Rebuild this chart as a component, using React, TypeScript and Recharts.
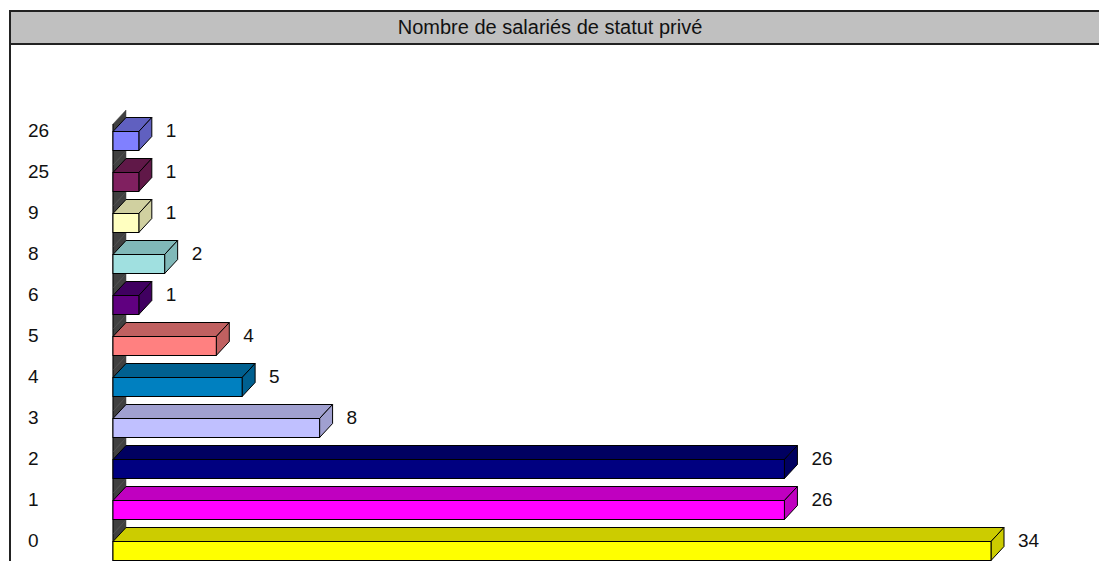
import { BarChart, Bar, XAxis, YAxis, LabelList } from "recharts"

// categories from top to bottom, as in the picture
const categories = ["26", "25", "9", "8", "6", "5", "4", "3", "2", "1", "0"]
const counts = [1, 1, 1, 2, 1, 4, 5, 8, 26, 26, 34]
const frontColors = ["#8080ff", "#802060", "#ffffc0", "#a0e0e0", "#600080", "#ff8080", "#0080c0", "#c0c0ff", "#000080", "#ff00ff", "#ffff00"]
const sideColors = ["#6060c0", "#601848", "#d0d0a0", "#80b8b8", "#400060", "#c06060", "#006090", "#a0a0d0", "#000060", "#c000c0", "#cccc00"]

const data = categories.map((c, i) => ({ cat: c, value: counts[i], front: frontColors[i], side: sideColors[i] }))

const DX = 13
const DY = 14
const FONT = "'Liberation Sans', Arial, sans-serif"

const Bar3D = (props: any) => {
  const { x, y, width, height, payload, background } = props
  const cy = y + height / 2
  const bandTop = background ? background.y : cy - 20.5
  const bandBottom = background ? background.y + background.height : cy + 20.5
  const fTop = cy + 1
  const fBot = cy + 20
  const x2 = x + width
  return (
    <g>
      {/* back wall segment */}
      <polygon
        points={`${x},${bandTop + DY} ${x + DX},${bandTop} ${x + DX},${bandBottom} ${x},${bandBottom + DY}`}
        fill="#404040"
        stroke="#404040"
        strokeWidth={0.5}
      />
      <line x1={x} y1={bandTop + DY} x2={x} y2={bandBottom + DY} stroke="#000" />
      {/* top face */}
      <polygon
        points={`${x},${fTop} ${x + DX},${fTop - DY} ${x2 + DX},${fTop - DY} ${x2},${fTop}`}
        fill={payload.side}
        stroke="#000"
        strokeWidth={1}
      />
      {/* side face */}
      <polygon
        points={`${x2},${fTop} ${x2 + DX},${fTop - DY} ${x2 + DX},${fBot - DY} ${x2},${fBot}`}
        fill={payload.side}
        stroke="#000"
        strokeWidth={1}
      />
      {/* front face */}
      <rect x={x} y={fTop} width={width} height={fBot - fTop} fill={payload.front} stroke="#000" strokeWidth={1} />
    </g>
  )
}

const renderLabel = (props: any) => {
  const { x, y, width, height, value } = props
  return (
    <text x={x + width + DX + 14} y={y + height / 2} dy="0.36em" fontSize={19} fontFamily={FONT} fill="#111">
      {value}
    </text>
  )
}

const CatTick = (props: any) => {
  const { y, payload } = props
  return (
    <text x={28} y={y} dy="0.36em" fontSize={19} fontFamily={FONT} fill="#111">
      {payload.value}
    </text>
  )
}

export default function App() {
  return (
    <div style={{ position: "absolute", left: 0, top: 0, width: 1099, height: 561, background: "#fff", overflow: "hidden" }}>
      {/* frame and title bar */}
      <div
        style={{
          position: "absolute",
          left: 9,
          top: 10,
          width: 1200,
          height: 600,
          borderLeft: "2px solid #222",
          borderTop: "2px solid #222",
          boxSizing: "border-box",
        }}
      />
      <div
        style={{
          position: "absolute",
          left: 11,
          top: 12,
          width: 1200,
          height: 33,
          background: "#c0c0c0",
          borderBottom: "2px solid #222",
          boxSizing: "border-box",
        }}
      />
      <div
        style={{
          position: "absolute",
          left: 0,
          top: 16,
          width: 1100,
          textAlign: "center",
          fontFamily: FONT,
          fontSize: 20,
          color: "#111",
        }}
      >
        Nombre de salariés de statut privé
      </div>
      <div style={{ position: "absolute", left: 0, top: 0 }}>
        <BarChart
          width={1099}
          height={561}
          data={data}
          layout="vertical"
          margin={{ top: 110, right: 108, bottom: 0, left: 0 }}
          barCategoryGap={0}
        >
          <XAxis type="number" domain={[0, 34]} hide />
          <YAxis type="category" dataKey="cat" width={113} axisLine={false} tickLine={false} tick={<CatTick />} interval={0} />
          <Bar dataKey="value" shape={<Bar3D />} isAnimationActive={false}>
            <LabelList dataKey="value" content={renderLabel} />
          </Bar>
        </BarChart>
      </div>
    </div>
  )
}
